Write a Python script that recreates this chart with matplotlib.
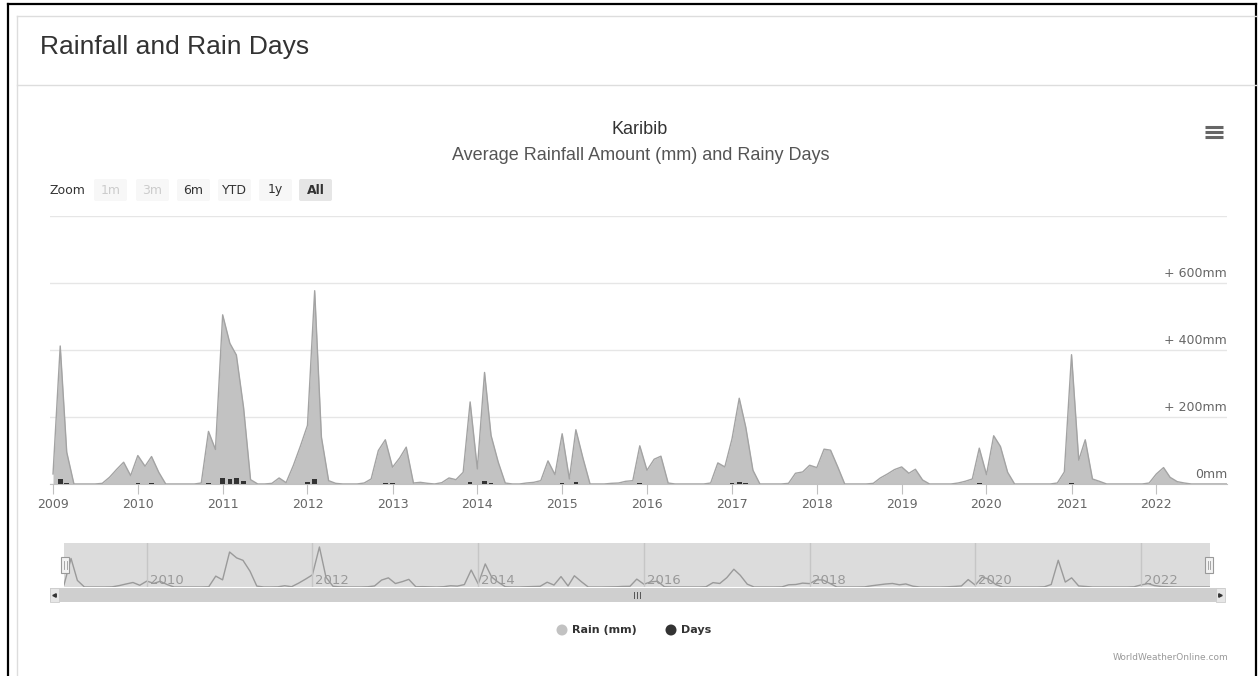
import numpy as np
import pandas as pd
import matplotlib
matplotlib.use("Agg")
import matplotlib.pyplot as plt
from matplotlib.patches import Rectangle, Circle, FancyBboxPatch
import matplotlib.transforms as mtransforms

W, H = 1259, 676

# monthly rainfall (mm), Jan 2009 .. Nov 2022
rain_mm = [
    30, 412, 95, 0, 0, 0, 0, 2, 20, 43, 65, 25,        # 2009
    85, 53, 82, 35, 0, 0, 0, 0, 0, 3, 157, 103,        # 2010
    505, 420, 385, 228, 13, 0, 0, 2, 18, 4, 55, 112,   # 2011
    175, 577, 140, 10, 2, 0, 0, 0, 3, 15, 100, 132,    # 2012
    50, 78, 110, 3, 5, 2, 0, 4, 18, 13, 35, 245,       # 2013
    45, 333, 145, 65, 3, 0, 0, 3, 5, 10, 69, 28,       # 2014
    150, 15, 162, 76, 0, 0, 0, 2, 3, 8, 10, 114,       # 2015
    41, 74, 83, 3, 0, 0, 0, 0, 0, 3, 63, 51,           # 2016
    135, 256, 170, 41, 0, 0, 0, 0, 2, 32, 36, 56,      # 2017
    49, 104, 101, 51, 0, 0, 0, 0, 2, 18, 30, 43,       # 2018
    51, 32, 44, 12, 0, 0, 0, 0, 3, 8, 15, 107,         # 2019
    28, 144, 112, 35, 0, 0, 0, 0, 0, 0, 3, 36,         # 2020
    386, 71, 132, 15, 8, 0, 0, 0, 0, 0, 0, 3,          # 2021
    30, 49, 20, 7, 3, 0, 0, 0, 0, 0, 0,                # 2022
]

# rainy days per month
rain_days = [
    1, 16, 3, 0, 0, 0, 0, 0, 0, 0, 0, 0,
    2, 0, 2, 0, 0, 0, 0, 0, 0, 0, 3, 0,
    18, 15, 18, 8, 0, 0, 0, 0, 0, 0, 0, 0,
    5, 15, 0, 0, 0, 0, 0, 0, 0, 0, 0, 2,
    2, 0, 0, 0, 0, 0, 0, 0, 0, 0, 0, 5,
    0, 8, 3, 0, 0, 0, 0, 0, 0, 0, 0, 0,
    2, 0, 7, 0, 0, 0, 0, 0, 0, 0, 0, 2,
    0, 0, 0, 0, 0, 0, 0, 0, 0, 0, 0, 0,
    2, 5, 2, 0, 0, 0, 0, 0, 0, 0, 0, 0,
    0, 0, 0, 0, 0, 0, 0, 0, 0, 0, 0, 0,
    0, 0, 0, 0, 0, 0, 0, 0, 0, 0, 0, 3,
    0, 0, 0, 0, 0, 0, 0, 0, 0, 0, 0, 0,
    3, 0, 0, 0, 0, 0, 0, 0, 0, 0, 0, 0,
    0, 0, 0, 0, 0, 0, 0, 0, 0, 0, 0,
]

dates = pd.date_range("2009-01-01", periods=len(rain_mm), freq="MS")
years = list(range(2009, 2023))
nav_years = list(range(2010, 2023, 2))
ytick_vals = [0, 200, 400, 600, 800]
ytick_labels = ["0mm", "+ 200mm", "+ 400mm", "+ 600mm"]
buttons = ["1m", "3m", "6m", "YTD", "1y", "All"]

AREA = "#c2c2c2"
EDGE = "#a3a3a3"
BAR = "#333333"
TXT = "#333333"
LBL = "#666666"


def frac(x0, y0, x1, y1):
    # pixel box (top-left origin) -> figure fraction rect
    return [x0 / W, 1 - y1 / H, (x1 - x0) / W, (y1 - y0) / H]


fig = plt.figure(figsize=(W / 100, H / 100), dpi=100)
fig.patch.set_facecolor("white")

# background layer in pixel coordinates
bg = fig.add_axes([0, 0, 1, 1], zorder=0)
bg.set_xlim(0, W)
bg.set_ylim(H, 0)
bg.axis("off")

# page frame
bg.plot([8, 8], [4, H], color="black", lw=1.6)
bg.plot([8, 1256], [4, 4], color="black", lw=1.6)
bg.plot([1256, 1256], [4, H], color="black", lw=1.6)
bg.plot([17, 1256], [16, 16], color="#dddddd", lw=1)
bg.plot([17, 17], [16, H], color="#dddddd", lw=1)
bg.plot([17, 1256], [85, 85], color="#dddddd", lw=1)

bg.text(40, 47, "Rainfall and Rain Days", fontsize=19, color=TXT,
        family="Liberation Sans", va="center", ha="left")
bg.text(640, 130, "Karibib", fontsize=13, color=TXT,
        family="Liberation Sans", va="center", ha="center")
bg.text(641, 155, "Average Rainfall Amount (mm) and Rainy Days", fontsize=13,
        color="#555555", family="Liberation Sans", va="center", ha="center")

# export menu icon
for yy in (127, 132, 137):
    bg.plot([1205, 1223], [yy, yy], color="#666666", lw=2.2, solid_capstyle="butt")

# range selector
bg.text(50, 190, "Zoom", fontsize=9, color=TXT, va="center", ha="left")
bx = [93, 135, 176, 217, 258, 298]
for x0, lab in zip(bx, buttons):
    sel = lab == "All"
    face = "#e6e6e6" if sel else "#f7f7f7"
    bg.add_patch(FancyBboxPatch((x0 + 1, 179), 33, 22,
                                boxstyle="round,pad=0,rounding_size=2",
                                facecolor=face, edgecolor="none"))
    col = "#cccccc" if lab in ("1m", "3m") else TXT
    bg.text(x0 + 17.5, 190, lab, fontsize=9, color=col, va="center", ha="center",
            fontweight="bold" if sel else "normal")

# main chart
ax = fig.add_axes(frac(50, 216, 1227, 484), zorder=2)
ax.set_facecolor("none")
ax.fill_between(dates, rain_mm, 0, color=AREA, lw=0, zorder=2)
ax.plot(dates, rain_mm, color=EDGE, lw=1, zorder=3)
ax.bar(dates, rain_days, width=20, color=BAR, zorder=4)
ax.set_ylim(0, 800)
ax.set_xlim(dates[0] - pd.Timedelta(days=13), dates[-1])
ax.set_yticks(ytick_vals)
ax.yaxis.grid(True, color="#e6e6e6", lw=1)
ax.set_axisbelow(True)
ax.tick_params(axis="y", length=0, labelleft=False)
for s in ("top", "left", "right"):
    ax.spines[s].set_visible(False)
ax.spines["bottom"].set_color("#c0c0c0")
ax.set_xticks([pd.Timestamp(f"{y}-01-01") for y in years])
ax.set_xticklabels([str(y) for y in years])
ax.tick_params(axis="x", length=7, color="#c0c0c0", labelsize=9,
               labelcolor=LBL, pad=3)
off = mtransforms.offset_copy(ax.transData, fig=fig, x=0, y=3, units="dots")
blend = mtransforms.blended_transform_factory(ax.transAxes, off)
for v, lab in zip(ytick_vals, ytick_labels):
    ax.text(1.0, v, lab, transform=blend, ha="right", va="bottom",
            fontsize=9, color=LBL)

# navigator
nav = fig.add_axes(frac(64, 543, 1210, 587), zorder=2)
nav.set_facecolor("#dcdcdc")
nav.plot(dates, rain_mm, color="#9a9a9a", lw=1)
nav.set_xlim(dates[0], dates[-1])
nav.set_ylim(0, 635)
for y in nav_years:
    d = pd.Timestamp(f"{y}-01-01")
    nav.axvline(d, color="#c6c6c6", lw=1)
    nav.text(d + pd.Timedelta(days=12), 45, str(y), fontsize=9.5,
             color="#999999", va="baseline", ha="left")
nav.set_xticks([])
nav.set_yticks([])
for s in nav.spines.values():
    s.set_visible(False)

# navigator handles
ov = fig.add_axes([0, 0, 1, 1], zorder=3)
ov.set_xlim(0, W)
ov.set_ylim(H, 0)
ov.axis("off")
for hx in (65.5, 1209):
    ov.add_patch(Rectangle((hx - 4, 557), 8, 16, facecolor="#f2f2f2",
                           edgecolor="#999999", lw=0.8))
    ov.plot([hx - 1.2, hx - 1.2], [561, 569], color="#999999", lw=0.6)
    ov.plot([hx + 1.2, hx + 1.2], [561, 569], color="#999999", lw=0.6)

# scrollbar
ov.add_patch(Rectangle((50, 588), 1175, 14, facecolor="#cfcfcf", edgecolor="none"))
ov.add_patch(Rectangle((50, 588), 9, 14, facecolor="#e6e6e6", edgecolor="#cccccc", lw=0.6))
ov.add_patch(Rectangle((1216, 588), 9, 14, facecolor="#e6e6e6", edgecolor="#cccccc", lw=0.6))
ov.plot([54.5], [595], marker="<", ms=2.5, color="#333333")
ov.plot([1220.5], [595], marker=">", ms=2.5, color="#333333")
for gx in (634, 637, 640):
    ov.plot([gx, gx], [592, 598], color="#555555", lw=0.7)

# legend
ov.add_patch(Circle((562, 630), 5.5, facecolor=AREA, edgecolor="none"))
ov.text(572, 630, "Rain (mm)", fontsize=8, fontweight="bold", color=TXT,
        va="center", ha="left")
ov.add_patch(Circle((671, 630), 5.5, facecolor=BAR, edgecolor="none"))
ov.text(681, 630, "Days", fontsize=8, fontweight="bold", color=TXT,
        va="center", ha="left")

ov.text(1228, 657, "WorldWeatherOnline.com", fontsize=6.5, color="#999999",
        va="center", ha="right")

fig.savefig("out.png", dpi=100)
